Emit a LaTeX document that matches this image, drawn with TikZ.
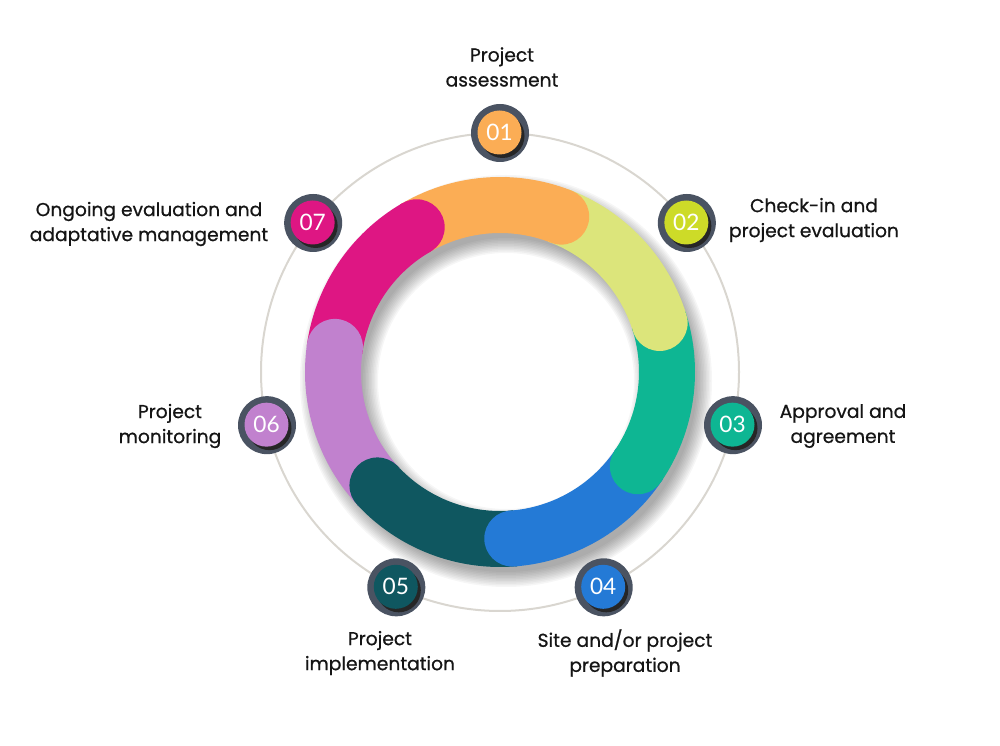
\documentclass[tikz,border=0pt]{standalone}
\usepackage{fontspec}
\setmainfont{Poppins}
\newfontfamily\stagefont{Poppins}[FakeBold=0.7]
\newfontfamily\numfont{Lato}
\usetikzlibrary{calc}

\definecolor{cone}{HTML}{FBAD55}
\definecolor{ctwo}{HTML}{DCE57B}
\definecolor{mtwo}{HTML}{CDDB28}
\definecolor{cthree}{HTML}{0EB693}
\definecolor{cfour}{HTML}{247AD6}
\definecolor{cfive}{HTML}{0F5760}
\definecolor{csix}{HTML}{C181CE}
\definecolor{cseven}{HTML}{DE1683}
\definecolor{slate}{HTML}{4A5362}
\definecolor{guide}{HTML}{D9D6D0}
\definecolor{ink}{HTML}{151515}

\tikzset{
  stage/.style={font=\stagefont\fontsize{14}{18.75}\selectfont, text=ink, align=center},
  num/.style={font=\numfont\fontsize{17}{17}\selectfont, text=white, circle,
    minimum size=33pt, inner sep=0pt},
}

\begin{document}
\begin{tikzpicture}[x=0.75pt,y=0.75pt]
\useasboundingbox (0,0) rectangle (1000,746);
\coordinate (c) at (500,374);

\draw[guide, line width=1.5pt] (c) circle (239);

% soft shadow under the ring
\foreach \w in {0,3,...,30}
  \draw[line width=(48+\w)*0.75pt, black, opacity=0.035] ($(c)+(6,-9)$) circle (167);

% ring segments, flat start, round end
\foreach \k/\col in {0/cone,1/ctwo,2/cthree,3/cfour,4/cfive,5/csix,6/cseven}{
  \pgfmathsetmacro\m{90-\k*360/7}
  \draw[\col, line width=42pt] ($(c)+(\m+31:167)$) arc (\m+31:\m-21.5:167);
}
\foreach \k/\col in {0/cone,1/ctwo,2/cthree,3/cfour,4/cfive,5/csix,6/cseven}{
  \pgfmathsetmacro\m{90-\k*360/7}
  \fill[\col] ($(c)+(\m-21.5:167)$) circle (28);
}

% numbered markers
\foreach \k/\col/\t in {0/cone/01,1/mtwo/02,2/cthree/03,3/cfour/04,4/cfive/05,5/csix/06,6/cseven/07}{
  \pgfmathsetmacro\m{90-\k*360/7}
  \fill[slate] ($(c)+(\m:239)$) circle (29);
  \fill[black!85] ($(c)+(\m:239)+(2.5,-3)$) circle (22);
  \node[num, fill=\col] (m\t) at ($(c)+(\m:239)+(-0.5,0.5)$) {\t};
}

\node[stage] (l01) at (502,679) {Project\\assessment};
\node[stage] (l02) at (814,526) {Check-in and\\project evaluation};
\node[stage] (l03) at (843,320) {Approval and\\agreement};
\node[stage] (l04) at (625,93) {Site and/or project\\preparation};
\node[stage] (l05) at (380,93) {Project\\implementation};
\node[stage] (l06) at (170,320) {Project\\monitoring};
\node[stage] (l07) at (149,522) {Ongoing evaluation and\\adaptative management};
\end{tikzpicture}
\end{document}
